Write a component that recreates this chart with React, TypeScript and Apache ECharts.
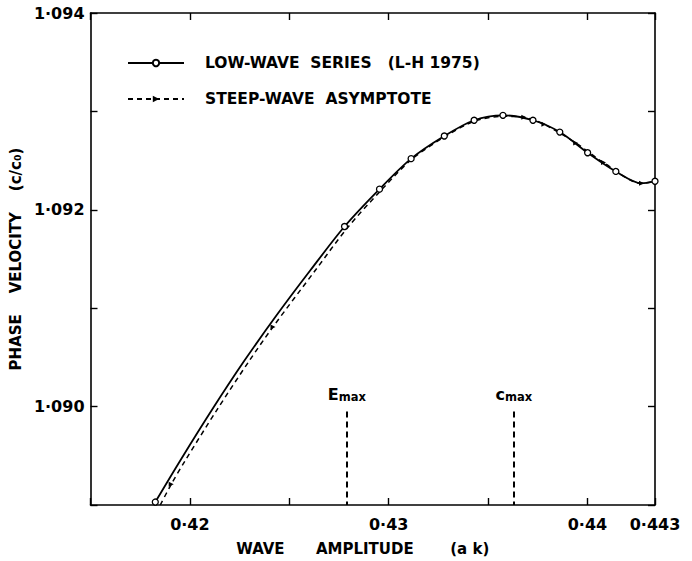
import React, { useEffect, useRef } from "react";
import * as echarts from "echarts";

// ---- data ----
const lowWaveAk = [0.41826, 0.41951, 0.42112, 0.42272, 0.42437, 0.42608, 0.42778, 0.42954, 0.43113, 0.4328, 0.4343, 0.43575, 0.43726, 0.43861, 0.44001, 0.44143, 0.44272, 0.4434];
const lowWaveC = [1.08903, 1.08945, 1.08997, 1.09046, 1.09093, 1.09139, 1.09183, 1.09221, 1.09252, 1.09275, 1.09291, 1.09296, 1.09291, 1.09279, 1.09258, 1.09239, 1.09227, 1.09229];
const lowWaveTabulated = [true, false, false, false, false, false, true, true, true, true, true, true, true, true, true, true, false, true];

const steepAk = [0.41851, 0.41906, 0.41976, 0.42137, 0.42297, 0.42418, 0.42633, 0.4279, 0.42958, 0.43114, 0.4328, 0.4343, 0.43575, 0.4368, 0.43781, 0.43941, 0.44081, 0.44272, 0.4434];
const steepC = [1.089, 1.08921, 1.08945, 1.08997, 1.09046, 1.09081, 1.09139, 1.09181, 1.09219, 1.09251, 1.09274, 1.0929, 1.09295, 1.09294, 1.09287, 1.09268, 1.09248, 1.09227, 1.09229];
const steepTabulated = [false, true, false, false, false, true, false, false, false, false, false, false, false, true, true, true, true, true, false];

const markerNames = ["E", "c"];
const markerAk = [0.4279, 0.4363];
const markerTopC = 1.08995;

const xTickValues = [0.42, 0.43, 0.44, 0.4434];
const xTickLabels = ["0·42", "0·43", "0·44", "0·443"];
const yTickValues = [1.09, 1.092, 1.094];
const yTickLabels = ["1·090", "1·092", "1·094"];

const X_MIN = 0.415;
const X_MAX = 0.4434;
const X_STEP = 0.005;
const Y_MIN = 1.089;
const Y_MAX = 1.094;
const Y_STEP = 0.001;

const SERIES_LOW = "LOW-WAVE  SERIES   (L-H 1975)";
const SERIES_STEEP = "STEEP-WAVE  ASYMPTOTE";

const FONT = "DejaVu Sans";

function lookupLabel(values: number[], labels: string[], v: number, scale: number) {
  const k = Math.round(v * scale);
  for (let i = 0; i < values.length; i++) {
    if (Math.round(values[i] * scale) === k) return labels[i];
  }
  return "";
}

export default function App() {
  const ref = useRef<HTMLDivElement>(null);

  useEffect(() => {
    if (!ref.current) return;
    const chart = echarts.init(ref.current, undefined, { renderer: "svg" });

    const lowData = lowWaveAk.map((x, i) =>
      lowWaveTabulated[i] ? { value: [x, lowWaveC[i]] } : { value: [x, lowWaveC[i]], symbol: "none" }
    );
    const steepData = steepAk.map((x, i) =>
      steepTabulated[i] ? { value: [x, steepC[i]] } : { value: [x, steepC[i]], symbol: "none" }
    );

    const axisCommon = {
      type: "value" as const,
      axisLine: { show: true, lineStyle: { color: "#000", width: 1.6 } },
      axisTick: { show: true, inside: true, length: 7, lineStyle: { color: "#000", width: 1.4 } },
      splitLine: { show: false },
    };

    const xBase = { ...axisCommon, min: X_MIN, max: X_MAX, interval: X_STEP };
    const yBase = { ...axisCommon, min: Y_MIN, max: Y_MAX, interval: Y_STEP };

    chart.setOption({
      animation: false,
      backgroundColor: "#fff",
      grid: { left: 90, right: 37, top: 13, bottom: 56, containLabel: false },
      legend: {
        orient: "vertical",
        left: 122,
        top: 50,
        itemWidth: 56,
        itemHeight: 8,
        itemGap: 20,
        data: [SERIES_LOW, SERIES_STEEP],
        textStyle: {
          fontFamily: FONT,
          fontWeight: "bold",
          fontSize: 15.5,
          color: "#000",
          padding: [0, 0, 0, 16],
        },
      },
      xAxis: [
        {
          ...xBase,
          position: "bottom",
          name: "WAVE      AMPLITUDE       (a k)",
          nameLocation: "middle",
          nameGap: 36,
          nameTextStyle: {
            fontFamily: FONT,
            fontWeight: "bold",
            fontSize: 15,
            color: "#000",
            padding: [0, 20, 0, 0],
          },
          axisLabel: {
            show: true,
            margin: 11,
            showMinLabel: true,
            showMaxLabel: true,
            fontFamily: FONT,
            fontWeight: "bold",
            fontSize: 16,
            color: "#000",
            formatter: (v: number) => lookupLabel(xTickValues, xTickLabels, v, 10000),
          },
        },
        { ...xBase, position: "top", axisLabel: { show: false } },
      ],
      yAxis: [
        {
          ...yBase,
          position: "left",
          name: "PHASE    VELOCITY    (c/c₀)",
          nameLocation: "middle",
          nameGap: 60,
          nameRotate: 90,
          nameTextStyle: { fontFamily: FONT, fontWeight: "bold", fontSize: 15, color: "#000" },
          axisLabel: {
            show: true,
            margin: 6,
            showMinLabel: true,
            showMaxLabel: true,
            fontFamily: FONT,
            fontWeight: "bold",
            fontSize: 16,
            color: "#000",
            formatter: (v: number) => lookupLabel(yTickValues, yTickLabels, v, 10000),
          },
        },
        { ...yBase, position: "right", axisLabel: { show: false } },
      ],
      series: [
        {
          name: SERIES_LOW,
          type: "line",
          xAxisIndex: 0,
          yAxisIndex: 0,
          smooth: 0.3,
          symbol: "circle",
          symbolSize: 6,
          showAllSymbol: true,
          lineStyle: { color: "#000", width: 1.8, type: "solid" },
          itemStyle: { color: "#fff", borderColor: "#000", borderWidth: 1.3 },
          data: lowData,
          z: 3,
          markLine: {
            silent: true,
            symbol: ["none", "none"],
            lineStyle: { color: "#000", width: 2, type: [6, 4] },
            label: {
              show: true,
              position: "start",
              distance: 4,
              formatter: (p: any) => `{a|${p.name}}{b|max}`,
              rich: {
                a: { fontFamily: FONT, fontWeight: "bold", fontSize: 16, color: "#000", padding: [0, 0, 5, 0] },
                b: { fontFamily: FONT, fontWeight: "bold", fontSize: 11.5, color: "#000" },
              },
            },
            data: markerAk.map((ak, i) => [
              { coord: [ak, markerTopC], name: markerNames[i] },
              { coord: [ak, Y_MIN] },
            ]),
          },
        },
        {
          name: SERIES_STEEP,
          type: "line",
          xAxisIndex: 0,
          yAxisIndex: 0,
          smooth: 0.3,
          symbol: "triangle",
          symbolRotate: -90,
          symbolSize: 5,
          showAllSymbol: true,
          lineStyle: { color: "#000", width: 1.5, type: [5, 4] },
          itemStyle: { color: "#000" },
          data: steepData,
          z: 2,
        },
      ],
    });

    return () => chart.dispose();
  }, []);

  return (
    <div
      ref={ref}
      style={{ position: "fixed", left: 0, top: 0, width: 692, height: 561, background: "#fff" }}
    />
  );
}
